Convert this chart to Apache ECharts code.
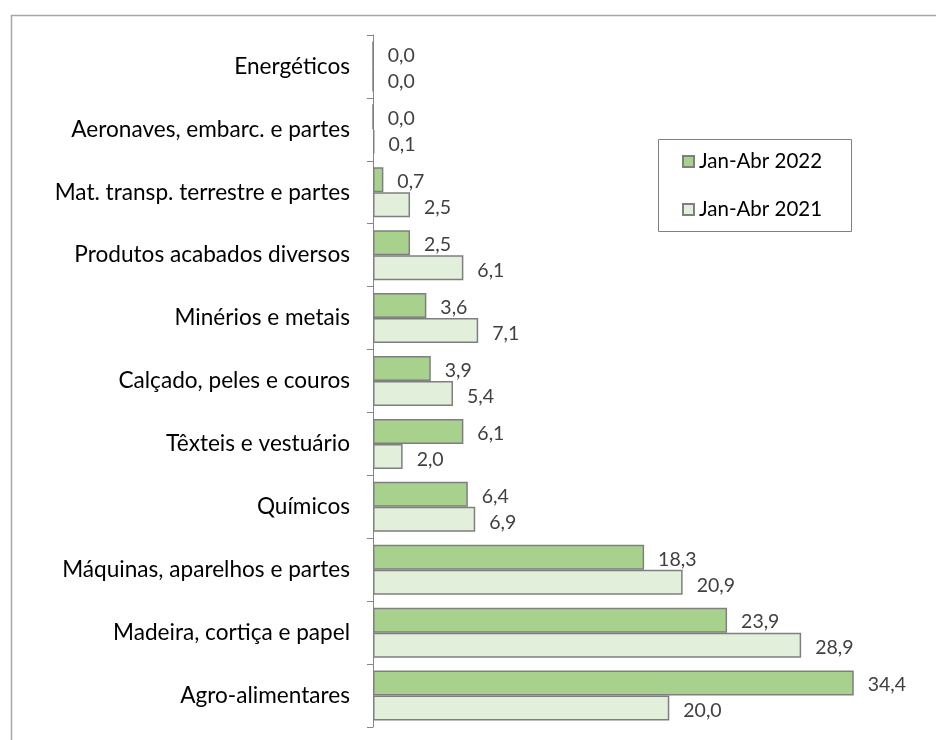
<!DOCTYPE html>
<html>
<head>
<meta charset="utf-8">
<script src="https://cdn.jsdelivr.net/npm/echarts@6/dist/echarts.min.js"></script>
<style>
html,body{margin:0;padding:0;background:#fff;}
#chart{width:936px;height:740px;}
</style>
</head>
<body>
<div id="chart"></div>
<script>
// Categories listed bottom to top
var categories = ['Agro-alimentares', 'Madeira, cortiça e papel', 'Máquinas, aparelhos e partes', 'Químicos', 'Têxteis e vestuário', 'Calçado, peles e couros', 'Minérios e metais', 'Produtos acabados diversos', 'Mat. transp. terrestre e partes', 'Aeronaves, embarc. e partes', 'Energéticos'];
var series2022 = [34.4, 23.9, 18.3, 6.4, 6.1, 3.9, 3.6, 2.5, 0.7, 0.0, 0.0];
var series2021 = [20.0, 28.9, 20.9, 6.9, 2.0, 5.4, 7.1, 6.1, 2.5, 0.1, 0.0];
var seriesNames = ['Jan-Abr 2022', 'Jan-Abr 2021'];

var FONT = 'Lato';
function fmt(p){ return p.value.toFixed(1).replace('.', ','); }

var chart = echarts.init(document.getElementById('chart'));
chart.setOption({
  animation: false,
  backgroundColor: '#ffffff',
  textStyle: { fontFamily: FONT },
  grid: { left: 373, right: 83, top: 35, bottom: 13, containLabel: false },
  xAxis: { type: 'value', min: 0, max: 32.4, show: false, splitLine: { show: false } },
  yAxis: {
    type: 'category',
    data: categories,
    axisLine: { show: true, lineStyle: { color: '#868686', width: 1 } },
    axisTick: { show: true, length: 6, lineStyle: { color: '#868686' } },
    axisLabel: { margin: 23, color: '#000000', fontSize: 22.6, fontFamily: FONT }
  },
  legend: {
    orient: 'vertical',
    left: 677, top: 146,
    itemGap: 27,
    itemWidth: 11, itemHeight: 11,
    icon: 'rect',
    textStyle: { fontSize: 20.5, color: '#000000', fontFamily: FONT },
    data: seriesNames
  },
  graphic: [
    { type: 'rect', left: 9, top: 13, shape: { x: 0, y: 0, width: 1000, height: 800 }, style: { fill: 'none', stroke: '#a6a6a6', lineWidth: 1.5 }, silent: true, z: -10 },
    { type: 'rect', left: 658, top: 139, shape: { x: 0, y: 0, width: 193, height: 92 }, style: { fill: '#ffffff', stroke: '#808080', lineWidth: 1 }, silent: true, z: 0 }
  ],
  series: [
    {
      name: seriesNames[0], type: 'bar', data: series2022,
      barWidth: 25, barGap: '0%',
      itemStyle: { color: '#a9d18e', borderColor: '#7f7f7f', borderWidth: 1.5 },
      label: { show: true, position: 'right', distance: 14, formatter: fmt, color: '#404040', fontSize: 19.5, fontFamily: FONT, offset: [0, 2] },
      z: 5
    },
    {
      name: seriesNames[1], type: 'bar', data: series2021,
      barWidth: 25, barGap: '0%',
      itemStyle: { color: '#e2efda', borderColor: '#7f7f7f', borderWidth: 1.5 },
      label: { show: true, position: 'right', distance: 14, formatter: fmt, color: '#404040', fontSize: 19.5, fontFamily: FONT, offset: [0, 3] },
      z: 5
    }
  ]
});
</script>
</body>
</html>
